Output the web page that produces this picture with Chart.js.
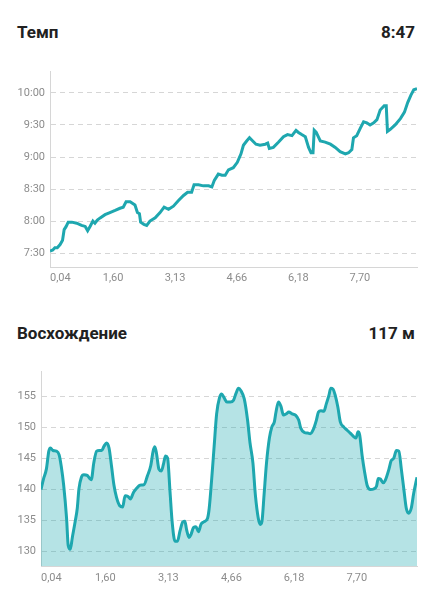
<!DOCTYPE html>
<html lang="ru">
<head>
<meta charset="utf-8">
<script src="https://cdn.jsdelivr.net/npm/chart.js@4.4.1/dist/chart.umd.min.js"></script>
<style>
  body { margin: 0; width: 434px; height: 600px; background: #fff; position: relative; overflow: hidden; font-family: Roboto, "Noto Sans", sans-serif; }
  .head { position: absolute; left: 17px; right: 19px; height: 20px; line-height: 20px; font-size: 17px; font-weight: bold; color: #212121; display: flex; justify-content: space-between; }
  canvas { position: absolute; left: 0; }
</style>
</head>
<body>
<div class="head" style="top:22px"><span>Темп</span><span>8:47</span></div>
<canvas id="pace" width="434" height="230" style="top:60px"></canvas>
<div class="head" style="top:323px"><span>Восхождение</span><span>117 м</span></div>
<canvas id="elev" width="434" height="240" style="top:360px"></canvas>
<script>
// distance labels on the x axis, km
const kmTicks = [0.04, 1.60, 3.13, 4.66, 6.18, 7.70];

// pace, seconds per km
const paceKm = [0.04, 0.11, 0.16, 0.22, 0.29, 0.35, 0.39, 0.44, 0.49, 0.58, 0.70, 0.82, 0.91, 0.97, 1.03, 1.10, 1.15, 1.21, 1.28, 1.40,
  1.52, 1.65, 1.77, 1.85, 1.92, 2.02, 2.14, 2.20, 2.25, 2.28, 2.36, 2.43, 2.51, 2.64, 2.76, 2.86, 2.97, 3.09, 3.21, 3.34,
  3.44, 3.54, 3.60, 3.71, 3.83, 3.96, 4.04, 4.10, 4.20, 4.29, 4.37, 4.45, 4.57, 4.67, 4.76, 4.82, 4.90, 4.97, 5.05, 5.13,
  5.23, 5.36, 5.42, 5.46, 5.56, 5.69, 5.81, 5.91, 6.02, 6.12, 6.18, 6.26, 6.35, 6.43, 6.49, 6.54, 6.57, 6.62, 6.72, 6.84,
  6.97, 7.09, 7.21, 7.34, 7.42, 7.50, 7.54, 7.62, 7.71, 7.79, 7.87, 7.95, 8.04, 8.12, 8.20, 8.30, 8.35, 8.38, 8.45, 8.57,
  8.70, 8.80, 8.88, 8.96, 9.03, 9.11];
const paceSec = [452, 453, 455, 455, 458, 462, 472, 475, 479, 479, 478, 476, 475, 471, 475, 480, 478, 481, 483, 486,
  488, 490, 492, 493, 498, 498, 495, 488, 487, 479, 477, 476, 480, 483, 488, 493, 491, 494, 499, 504,
  507, 507, 514, 514, 513, 513, 512, 518, 524, 523, 523, 528, 530, 535, 543, 551, 555, 558, 555, 552,
  551, 552, 553, 548, 549, 554, 559, 561, 560, 565, 563, 561, 559, 549, 544, 544, 565, 563, 555, 554,
  552, 549, 545, 543, 544, 547, 558, 560, 567, 573, 572, 570, 572, 575, 584, 588, 588, 564, 566, 570,
  576, 582, 591, 598, 603, 604];
const paceTicks = [450, 480, 510, 540, 570, 600];

// elevation, m
const elevKm = [0.04, 0.10, 0.17, 0.23, 0.27, 0.33, 0.41, 0.48, 0.53, 0.59, 0.66, 0.70, 0.75, 0.80, 0.87, 0.92, 0.96, 1.02, 1.08, 1.16,
  1.22, 1.26, 1.32, 1.39, 1.45, 1.51, 1.57, 1.63, 1.69, 1.75, 1.81, 1.87, 1.95, 2.02, 2.08, 2.15, 2.21, 2.28, 2.36, 2.44,
  2.54, 2.62, 2.70, 2.76, 2.80, 2.84, 2.90, 2.96, 3.01, 3.06, 3.11, 3.17, 3.22, 3.29, 3.35, 3.41, 3.48, 3.53, 3.57, 3.63,
  3.68, 3.74, 3.80, 3.86, 3.92, 3.99, 4.08, 4.12, 4.18, 4.24, 4.30, 4.37, 4.42, 4.48, 4.55, 4.63, 4.71, 4.77, 4.83, 4.89,
  4.97, 5.05, 5.11, 5.18, 5.24, 5.31, 5.36, 5.40, 5.45, 5.51, 5.58, 5.64, 5.70, 5.74, 5.80, 5.86, 5.92, 5.99, 6.05, 6.13,
  6.21, 6.29, 6.34, 6.43, 6.51, 6.57, 6.64, 6.72, 6.77, 6.83, 6.90, 6.96, 7.02, 7.07, 7.12, 7.18, 7.24, 7.30, 7.38, 7.46,
  7.54, 7.63, 7.68, 7.73, 7.77, 7.83, 7.89, 7.95, 8.03, 8.11, 8.18, 8.22, 8.27, 8.34, 8.39, 8.48, 8.53, 8.60, 8.66, 8.72,
  8.78, 8.84, 8.90, 8.96, 9.02, 9.08, 9.16];
const elevM = [140.0, 141.7, 143.3, 146.2, 146.7, 146.3, 146.2, 145.6, 143.8, 140.7, 135.4, 131.0, 130.4, 132.3, 134.9, 137.0, 140.1, 142.0, 142.4, 142.3,
  141.8, 141.6, 144.3, 146.2, 146.3, 146.3, 147.0, 147.5, 146.7, 143.8, 140.7, 138.8, 137.4, 137.2, 139.0, 138.9, 138.5, 139.5, 140.2, 140.7,
  140.8, 142.2, 143.8, 146.2, 146.9, 145.9, 143.3, 143.0, 144.1, 145.4, 145.1, 139.6, 134.9, 131.7, 131.7, 133.3, 134.8, 134.9, 133.6, 132.3,
  132.8, 133.9, 134.0, 133.2, 134.4, 134.8, 135.4, 137.0, 141.7, 147.0, 152.2, 154.8, 155.4, 154.8, 154.1, 154.1, 154.4, 155.5, 156.3, 155.9,
  154.6, 151.2, 147.5, 144.3, 139.1, 135.4, 134.4, 134.9, 139.1, 144.3, 148.3, 150.1, 150.9, 152.5, 154.1, 153.4, 152.0, 152.2, 152.5, 152.2,
  152.0, 151.2, 149.9, 149.2, 149.1, 149.0, 149.6, 151.2, 152.5, 152.7, 152.6, 153.8, 155.1, 156.3, 156.2, 155.1, 153.3, 150.9, 150.1, 149.6,
  149.1, 148.5, 148.3, 149.3, 148.8, 145.4, 142.8, 140.7, 140.0, 140.1, 140.6, 141.8, 141.7, 141.1, 141.5, 143.3, 144.6, 145.1, 146.3, 146.2,
  143.3, 140.1, 137.0, 136.2, 137.0, 139.4, 142.0];
const elevTicks = [130, 135, 140, 145, 150, 155];

const lineColor = "#1ea7af";
const labelColor = "#8c8c8c";
const gridColor = "#d6d6d6";

const formatPace = (v) => Math.floor(v / 60) + ":" + String(v % 60).padStart(2, "0");

const makeChart = (id, km, vals, s) => {
  const ctx = document.getElementById(id).getContext("2d");
  return new Chart(ctx, {
    type: "line",
    data: {
      datasets: [
        {
          data: km.map((x, i) => ({ x: x, y: vals[i] })),
          borderColor: lineColor,
          borderWidth: 3,
          backgroundColor: s.fill ? "rgba(31, 169, 176, 0.33)" : "transparent",
          fill: s.fill ? "start" : false,
          pointRadius: 0,
          tension: s.fill ? 0.4 : 0,
          cubicInterpolationMode: s.fill ? "monotone" : "default",
        },
      ],
    },
    options: {
      responsive: false,
      animation: false,
      layout: { padding: { top: s.top, right: 17, left: 0, bottom: 0 } },
      plugins: { legend: { display: false }, tooltip: { enabled: false } },
      scales: {
        x: {
          type: "linear",
          min: 0.04,
          max: s.xMax,
          afterBuildTicks: (scale) => {
            scale.ticks = kmTicks.map((v) => ({ value: v })).concat([{ value: scale.max }]);
          },
          afterFit: (scale) => { scale.height = s.xHeight; },
          grid: { display: false, drawTicks: false },
          border: { display: true, color: gridColor },
          ticks: {
            autoSkip: false,
            maxRotation: 0,
            align: "inner",
            padding: s.xPad,
            color: labelColor,
            font: { family: "Roboto", size: 11 },
            callback: (v, i, ticks) => (i === ticks.length - 1 ? "" : v.toFixed(2).replace(".", ",")),
          },
        },
        y: {
          min: s.yMin,
          max: s.yMax,
          afterBuildTicks: (scale) => {
            scale.ticks = s.yTicks.map((v) => ({ value: v }));
          },
          afterFit: (scale) => { scale.width = s.yWidth; },
          grid: { color: gridColor, drawTicks: false },
          border: { display: true, color: gridColor, dash: [5, 4] },
          ticks: {
            padding: 5,
            color: labelColor,
            font: { family: "Roboto", size: 11 },
            callback: s.yFormat,
          },
        },
      },
    },
  });
};

makeChart("pace", paceKm, paceSec, {
  fill: false, top: 8, xMax: 9.11, xHeight: 23, xPad: 5, yWidth: 50,
  yMin: 437, yMax: 620, yTicks: paceTicks, yFormat: formatPace,
});

makeChart("elev", elevKm, elevM, {
  fill: true, top: 7, xMax: 9.16, xHeight: 34, xPad: 6, yWidth: 41,
  yMin: 127.7, yMax: 159, yTicks: elevTicks, yFormat: (v) => String(v),
});
</script>
</body>
</html>
